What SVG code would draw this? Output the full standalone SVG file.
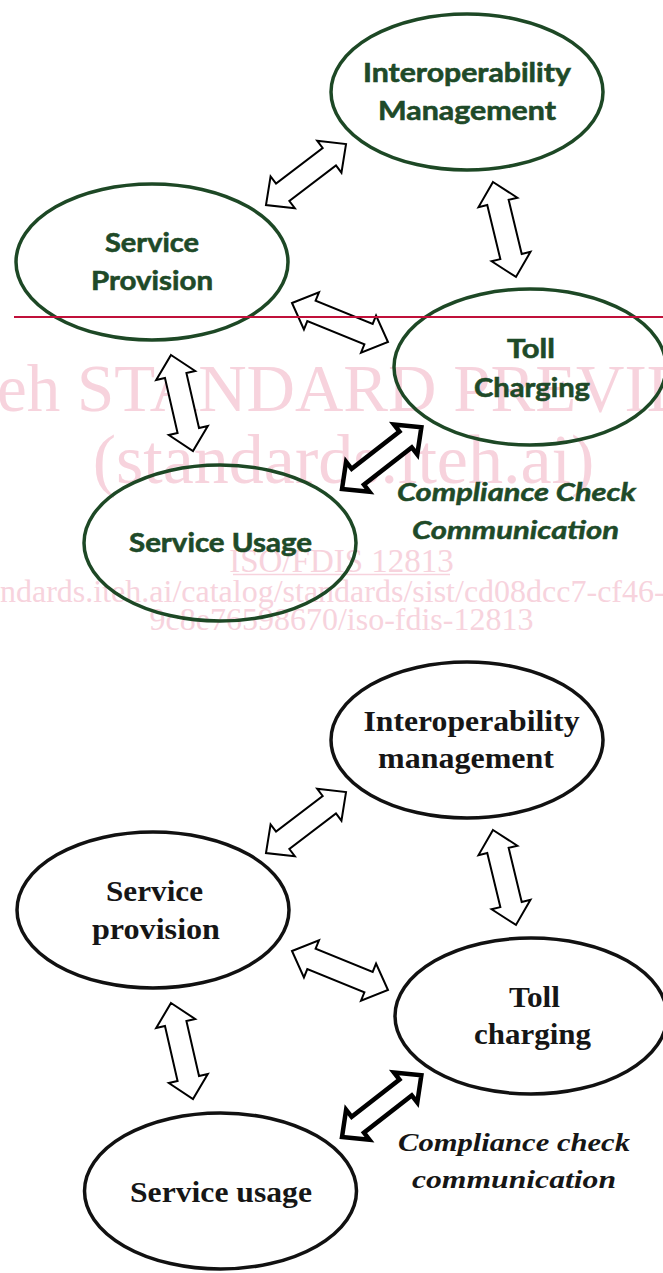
<svg xmlns="http://www.w3.org/2000/svg" width="663" height="1273" viewBox="0 0 663 1273">
  <style>
    .wm { font-family: "Liberation Serif", "Times New Roman", serif; fill: #f7d3dd; }
    .node-g { fill: none; stroke: #1d4825; stroke-width: 3.5; }
    .node-k { fill: none; stroke: #111111; stroke-width: 3.5; }
    .lbl-g { font-family: Lato, "Liberation Sans", sans-serif; font-weight: 700; font-size: 27px; fill: #1e4a28; stroke: #1e4a28; stroke-width: 0.6; text-anchor: middle; }
    .note-g { font-family: Lato, "Liberation Sans", sans-serif; font-weight: 700; font-style: italic; font-size: 25.5px; fill: #1e4a28; stroke: #1e4a28; stroke-width: 0.5; text-anchor: middle; }
    .lbl-k { font-family: "Liberation Serif", "Times New Roman", serif; font-weight: 700; font-size: 28.5px; fill: #161616; text-anchor: middle; }
    .note-k { font-family: "Liberation Serif", "Times New Roman", serif; font-weight: 700; font-style: italic; font-size: 26px; fill: #161616; text-anchor: middle; }
    .arrow { fill: #ffffff; stroke: #000000; stroke-width: 2; stroke-linejoin: miter; }
    .arrow-bold { fill: #ffffff; stroke: #000000; stroke-width: 4.5; stroke-linejoin: miter; }
  </style>

  <!-- background watermark -->
  <g id="watermark">
    <text class="wm" x="-3" y="411" font-size="67">eh STANDARD PREVIE</text>
    <text class="wm" x="343.5" y="483" font-size="70" text-anchor="middle">(standards.iteh.ai)</text>
    <text class="wm" x="341.5" y="571.5" font-size="33" text-anchor="middle">ISO/FDIS 12813</text>
    <line x1="233" y1="574.5" x2="450" y2="574.5" stroke="#f7d3dd" stroke-width="1.6"/>
    <text class="wm" x="0" y="602" font-size="32">ndards.iteh.ai/catalog/standards/sist/cd08dcc7-cf46-</text>
    <text class="wm" x="341.5" y="630" font-size="32" text-anchor="middle">9c8e76598670/iso-fdis-12813</text>
  </g>

  <!-- upper figure: coloured version -->
  <g id="upper-connectors">
    <polygon class="arrow" transform="translate(266,205) rotate(-37.3)" points="0,0 21,-20 21,-11 79.6,-11 79.6,-20 100.6,0 79.6,20 79.6,11 21,11 21,20"/>
    <polygon class="arrow" transform="translate(493,182) rotate(76.4)" points="0,0 21,-20 21,-11 76.7,-11 76.7,-20 97.7,0 76.7,20 76.7,11 21,11 21,20"/>
    <polygon class="arrow" transform="translate(292,303) rotate(22.1)" points="0,0 21,-20 21,-11 82.6,-11 82.6,-20 103.6,0 82.6,20 82.6,11 21,11 21,20"/>
    <polygon class="arrow" transform="translate(171,355) rotate(77.1)" points="0,0 21,-20 21,-11 77.5,-11 77.5,-20 98.5,0 77.5,20 77.5,11 21,11 21,20"/>
    <polygon class="arrow-bold" transform="translate(342,489) rotate(-37.9)" points="0,0 20,-19 20,-10 80.6,-10 80.6,-19 100.6,0 80.6,19 80.6,10 20,10 20,19"/>
  </g>

  <g id="upper-interoperability">
    <ellipse class="node-g" cx="467" cy="92" rx="136" ry="78"/>
    <text class="lbl-g" x="467" y="82" textLength="208" lengthAdjust="spacingAndGlyphs">Interoperability</text>
    <text class="lbl-g" x="467" y="120" textLength="178" lengthAdjust="spacingAndGlyphs">Management</text>
  </g>
  <g id="upper-provision">
    <ellipse class="node-g" cx="152" cy="262" rx="136" ry="78"/>
    <text class="lbl-g" x="152" y="252" textLength="94" lengthAdjust="spacingAndGlyphs">Service</text>
    <text class="lbl-g" x="152" y="290" textLength="122" lengthAdjust="spacingAndGlyphs">Provision</text>
  </g>
  <g id="upper-charging">
    <ellipse class="node-g" cx="530" cy="367" rx="136" ry="78"/>
    <text class="lbl-g" x="531" y="357.5" textLength="48" lengthAdjust="spacingAndGlyphs">Toll</text>
    <text class="lbl-g" x="532" y="396.5" textLength="116" lengthAdjust="spacingAndGlyphs">Charging</text>
  </g>
  <g id="upper-usage">
    <ellipse class="node-g" cx="220" cy="543" rx="136" ry="78"/>
    <text class="lbl-g" x="220.5" y="552" textLength="183" lengthAdjust="spacingAndGlyphs">Service Usage</text>
  </g>
  <g id="upper-compliance-label">
    <text class="note-g" x="516.5" y="500.5" textLength="239" lengthAdjust="spacingAndGlyphs">Compliance Check</text>
    <text class="note-g" x="515.5" y="539" textLength="207" lengthAdjust="spacingAndGlyphs">Communication</text>
  </g>

  <!-- lower figure: black and white version -->
  <g id="lower-connectors">
    <polygon class="arrow" transform="translate(266,853) rotate(-37.3)" points="0,0 21,-20 21,-11 79.6,-11 79.6,-20 100.6,0 79.6,20 79.6,11 21,11 21,20"/>
    <polygon class="arrow" transform="translate(493,830) rotate(76.4)" points="0,0 21,-20 21,-11 76.7,-11 76.7,-20 97.7,0 76.7,20 76.7,11 21,11 21,20"/>
    <polygon class="arrow" transform="translate(292,951) rotate(22.1)" points="0,0 21,-20 21,-11 82.6,-11 82.6,-20 103.6,0 82.6,20 82.6,11 21,11 21,20"/>
    <polygon class="arrow" transform="translate(171,1003) rotate(77.1)" points="0,0 21,-20 21,-11 77.5,-11 77.5,-20 98.5,0 77.5,20 77.5,11 21,11 21,20"/>
    <polygon class="arrow-bold" transform="translate(342,1137) rotate(-37.9)" points="0,0 20,-19 20,-10 80.6,-10 80.6,-19 100.6,0 80.6,19 80.6,10 20,10 20,19"/>
  </g>

  <g id="lower-interoperability">
    <ellipse class="node-k" cx="467" cy="740" rx="136" ry="78"/>
    <text class="lbl-k" x="471.5" y="730.5" textLength="216" lengthAdjust="spacingAndGlyphs">Interoperability</text>
    <text class="lbl-k" x="466" y="768" textLength="176" lengthAdjust="spacingAndGlyphs">management</text>
  </g>
  <g id="lower-provision">
    <ellipse class="node-k" cx="153" cy="910" rx="136" ry="78"/>
    <text class="lbl-k" x="154.5" y="901" textLength="97" lengthAdjust="spacingAndGlyphs">Service</text>
    <text class="lbl-k" x="156" y="938.5" textLength="128" lengthAdjust="spacingAndGlyphs">provision</text>
  </g>
  <g id="lower-charging">
    <ellipse class="node-k" cx="531" cy="1016" rx="136" ry="78"/>
    <text class="lbl-k" x="534.5" y="1006.5" textLength="51" lengthAdjust="spacingAndGlyphs">Toll</text>
    <text class="lbl-k" x="532.5" y="1043.5" textLength="117" lengthAdjust="spacingAndGlyphs">charging</text>
  </g>
  <g id="lower-usage">
    <ellipse class="node-k" cx="220.5" cy="1191" rx="136" ry="78"/>
    <text class="lbl-k" x="221" y="1201.5" textLength="182" lengthAdjust="spacingAndGlyphs">Service usage</text>
  </g>
  <g id="lower-compliance-label">
    <text class="note-k" x="514" y="1150.5" textLength="232" lengthAdjust="spacingAndGlyphs">Compliance check</text>
    <text class="note-k" x="514" y="1188" textLength="204" lengthAdjust="spacingAndGlyphs">communication</text>
  </g>

  <!-- page rule -->
  <line id="page-rule" x1="14" y1="317" x2="663" y2="317" stroke="#c0103a" stroke-width="2"/>
</svg>
